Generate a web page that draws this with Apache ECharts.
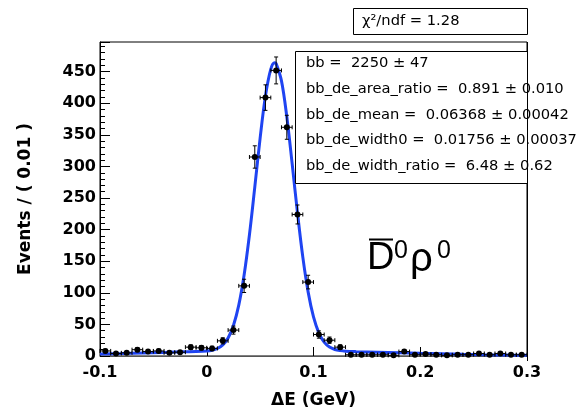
<!DOCTYPE html>
<html>
<head>
<meta charset="utf-8">
<script src="https://cdn.jsdelivr.net/npm/echarts@6/dist/echarts.min.js"></script>
<style>html,body{margin:0;padding:0;background:#fff;}#c{width:584px;height:414px;}</style>
</head>
<body>
<div id="c"></div>
<script>
// Data points (bin centres, counts, errors)
const binCenters = [-0.095,-0.085,-0.075,-0.065,-0.055,-0.045,-0.035,-0.025,-0.015,-0.005,
  0.005,0.015,0.025,0.035,0.045,0.055,0.065,0.075,0.085,0.095,
  0.105,0.115,0.125,0.135,0.145,0.155,0.165,0.175,0.185,0.195,
  0.205,0.215,0.225,0.235,0.245,0.255,0.265,0.275,0.285,0.295];
const counts = [8,4,5,10,7,8,5,6,14,13,
  12,24,41,111,315,409,452,362,224,117,
  34,25,14,2,2,2,2,1,7,2,
  3,2,1,2,2,4,2,4,2,2];
const errors = [2.8,2.0,2.2,3.2,2.6,2.8,2.2,2.4,3.7,3.6,
  3.5,4.9,6.4,10.5,17.7,20.2,21.3,19.0,15.0,10.8,
  5.8,5.0,3.7,1.4,1.4,1.4,1.4,1.0,2.6,1.4,
  1.7,1.4,1.0,1.4,1.4,2.0,1.4,2.0,1.4,1.4];
const binHalfWidth = 0.005;

// Fit curve
const curveX = [-0.1,-0.08,-0.06,-0.04,-0.02,-0.01,0,0.005,0.01,0.015,0.02,0.025,0.03,0.035,0.04,0.045,0.05,0.055,0.06,0.0637,0.065,0.07,0.075,0.08,0.085,0.09,0.095,0.1,0.105,0.11,0.115,0.12,0.125,0.13,0.14,0.16,0.18,0.2,0.22,0.24,0.26,0.28,0.3];
const curveY = [3.1,3.9,4.8,5.7,6.6,7.0,8.0,9.2,11.9,17.6,28.6,48.4,80.6,128.3,191.9,267.2,344.8,411.7,454.2,464.1,462.8,435.5,378.6,304.4,226.5,156.5,101.1,61.8,36.7,21.9,14.1,10.3,8.5,7.6,6.9,6.0,5.1,4.2,3.4,2.6,1.9,1.4,1.0];

// Axis ticks and texts
const xTicks = [-0.1, 0, 0.1, 0.2, 0.3];
const yTickStep = 50;
const chi2Text = 'χ²/ndf = 1.28';
const statsLines = [
  'bb =  2250 ± 47',
  'bb_de_area_ratio =  0.891 ± 0.010',
  'bb_de_mean =  0.06368 ± 0.00042',
  'bb_de_width0 =  0.01756 ± 0.00037',
  'bb_de_width_ratio =  6.48 ± 0.62'
];
const xTitle = 'ΔE (GeV)';
const yTitle = 'Events / ( 0.01 )';

const chart = echarts.init(document.getElementById('c'));
const pts = binCenters.map((x, i) => [x, counts[i], errors[i]]);
const curve = curveX.map((x, i) => [x, curveY[i]]);

const statsGraphics = statsLines.map((t, i) => ({
  type: 'text', x: 306, y: 63.5 + i * 25.6, z: 50,
  style: { text: t, font: '14.7px "DejaVu Sans"', fill: '#000', verticalAlign: 'middle' }
}));

chart.setOption({
  animation: false,
  backgroundColor: '#fff',
  grid: { left: 100, top: 42, width: 427, height: 319, show: true, borderColor: '#000', borderWidth: 1, backgroundColor: 'transparent' },
  xAxis: {
    type: 'value', min: -0.1, max: 0.3, interval: 0.1,
    name: xTitle, nameLocation: 'middle', nameGap: 36,
    nameTextStyle: { fontFamily: 'DejaVu Sans', fontWeight: 'bold', fontSize: 17, color: '#000' },
    axisLine: { show: true, onZero: false, lineStyle: { color: '#555', width: 1 } },
    axisTick: { show: true, inside: true, length: 9, lineStyle: { color: '#000' } },
    axisLabel: { margin: 9, fontFamily: 'DejaVu Sans', fontWeight: 'bold', fontSize: 16, color: '#000',
      formatter: v => { const r = Math.round(v * 10) / 10; const i = xTicks.indexOf(r); return i >= 0 ? String(xTicks[i]) : ''; } },
    splitLine: { show: false }
  },
  yAxis: {
    type: 'value', min: 0, max: 497, interval: yTickStep,
    name: yTitle, nameLocation: 'middle', nameGap: 66,
    nameTextStyle: { fontFamily: 'DejaVu Sans', fontWeight: 'bold', fontSize: 17, color: '#000' },
    axisLine: { show: true, onZero: false, lineStyle: { color: '#000', width: 1 } },
    axisTick: { show: true, inside: true, length: 10, lineStyle: { color: '#000' } },
    minorTick: { show: true, splitNumber: 5, length: 5, lineStyle: { color: '#000' } },
    axisLabel: { margin: 4, fontFamily: 'DejaVu Sans', fontWeight: 'bold', fontSize: 16, color: '#000',
      showMaxLabel: false },
    splitLine: { show: false }
  },
  series: [
    {
      type: 'line', data: curve, smooth: 0.35, showSymbol: false,
      lineStyle: { color: '#1f44f2', width: 3 }, z: 3, clip: true
    },
    {
      type: 'custom', data: pts, z: 4,
      renderItem: function (params, api) {
        const x = api.value(0), y = api.value(1), e = api.value(2);
        const c = api.coord([x, y]);
        const top = api.coord([x, y + e]);
        const bot = api.coord([x, y - e]);
        const l = api.coord([x - binHalfWidth, y]);
        const r = api.coord([x + binHalfWidth, y]);
        const ls = { stroke: '#000', lineWidth: 1 };
        return {
          type: 'group',
          children: [
            { type: 'line', shape: { x1: c[0], y1: top[1], x2: c[0], y2: bot[1] }, style: ls },
            { type: 'line', shape: { x1: c[0] - 2, y1: top[1], x2: c[0] + 2, y2: top[1] }, style: ls },
            { type: 'line', shape: { x1: c[0] - 2, y1: bot[1], x2: c[0] + 2, y2: bot[1] }, style: ls },
            { type: 'line', shape: { x1: l[0], y1: c[1], x2: r[0], y2: c[1] }, style: ls },
            { type: 'line', shape: { x1: l[0], y1: c[1] - 2, x2: l[0], y2: c[1] + 2 }, style: ls },
            { type: 'line', shape: { x1: r[0], y1: c[1] - 2, x2: r[0], y2: c[1] + 2 }, style: ls },
            { type: 'circle', shape: { cx: c[0], cy: c[1], r: 3 }, style: { fill: '#000' } }
          ]
        };
      }
    }
  ],
  graphic: [
    { type: 'rect', z: 40, shape: { x: 353.5, y: 8.5, width: 174, height: 26 }, style: { fill: '#fff', stroke: '#000', lineWidth: 1 } },
    { type: 'text', z: 41, x: 362, y: 21.5, style: { text: chi2Text, font: '14.7px "DejaVu Sans"', fill: '#000', verticalAlign: 'middle' } },
    { type: 'rect', z: 40, shape: { x: 295.5, y: 51.5, width: 232, height: 132 }, style: { fill: '#fff', stroke: '#000', lineWidth: 1 } }
  ].concat(statsGraphics).concat([
    { type: 'line', z: 60, shape: { x1: 527.5, y1: 42, x2: 527.5, y2: 361 }, style: { stroke: '#000', lineWidth: 1 } },
    { type: 'text', z: 41, x: 367, y: 240, style: { text: 'D', font: '38px "Liberation Sans"', fill: '#000', verticalAlign: 'top' } },
    { type: 'line', z: 41, shape: { x1: 369, y1: 239.5, x2: 393, y2: 239.5 }, style: { stroke: '#000', lineWidth: 2 } },
    { type: 'text', z: 41, x: 394, y: 239, style: { text: '0', font: '25px "Liberation Sans"', fill: '#000', verticalAlign: 'top' } },
    { type: 'text', z: 41, x: 410, y: 240, style: { text: 'ρ', font: '40px "Liberation Sans"', fill: '#000', verticalAlign: 'top' } },
    { type: 'text', z: 41, x: 437, y: 239, style: { text: '0', font: '25px "Liberation Sans"', fill: '#000', verticalAlign: 'top' } }
  ])
});
</script>
</body>
</html>
